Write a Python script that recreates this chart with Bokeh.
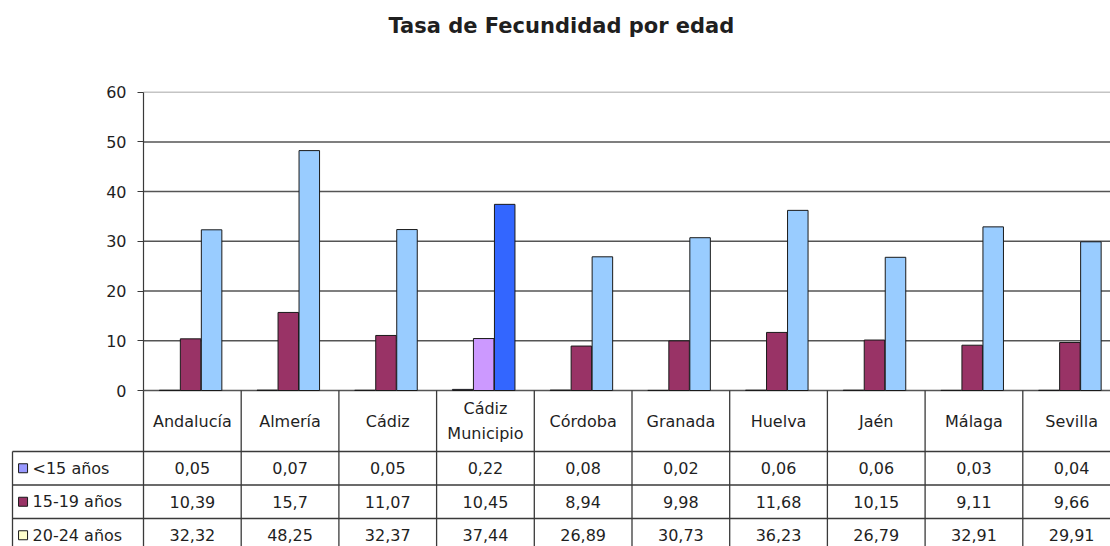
import numpy as np
from bokeh.plotting import figure
from bokeh.models import Range1d, FixedTicker, LinearAxis, ColumnDataSource
from bokeh.core.properties import value
from bokeh.embed import file_html
from bokeh.resources import INLINE

# ---------------- data ----------------
chart_title = "Tasa de Fecundidad por edad"
categories = ["Andalucía", "Almería", "Cádiz", "Cádiz\nMunicipio", "Córdoba",
              "Granada", "Huelva", "Jaén", "Málaga", "Sevilla"]
series_names = ["<15 años", "15-19 años", "20-24 años"]
menores_15 = [0.05, 0.07, 0.05, 0.22, 0.08, 0.02, 0.06, 0.06, 0.03, 0.04]
anos_15_19 = [10.39, 15.7, 11.07, 10.45, 8.94, 9.98, 11.68, 10.15, 9.11, 9.66]
anos_20_24 = [32.32, 48.25, 32.37, 37.44, 26.89, 30.73, 36.23, 26.79, 32.91, 29.91]
y_ticks = [0, 10, 20, 30, 40, 50, 60]
highlight = "Cádiz\nMunicipio"

# ---------------- styles / geometry ----------------
FONT = "DejaVu Sans"
TXT = "#1f1f1f"
LINE = "#3a3a3a"
GRID = "#555555"
GRID_TOP = "#c4c4c4"
bar_colors = ["#9999FF", "#993366", "#99CCFF"]
highlight_colors = ["#9999FF", "#CC99FF", "#3366FF"]
legend_colors = ["#9999FF", "#993366", "#FFFFCC"]

W, H = 1110, 546
AXIS_X = 143          # px, left edge of first category column
ZERO_Y = 390          # px, baseline of the chart
FRAME_L = 10          # px, left edge of plotting frame
FRAME_T = 44          # px, top edge of plotting frame
CELL = 97.7           # px per category column
YS = 4.972            # px per unit of value
HEADER_PX = 61        # header row height
ROW_PX = 33.5         # data row height
LEGEND_L = 12         # px, left border of the legend column
TITLE_X = 388         # px, left of title text

bar_w = 0.21
bar_step = 0.215
group_center = 0.482

series = [menores_15, anos_15_19, anos_20_24]
n = len(categories)
idx = np.arange(n)

x_range = Range1d(-(AXIS_X - FRAME_L) / CELL, (W - AXIS_X) / CELL)
y_range = Range1d(-(H - ZERO_Y) / YS, (ZERO_Y - FRAME_T) / YS)

p = figure(width=W, height=H, x_range=x_range, y_range=y_range,
           output_backend="svg", toolbar_location=None,
           x_axis_location=None, y_axis_location=None,
           min_border_left=FRAME_L, min_border_right=0,
           min_border_bottom=0, min_border_top=FRAME_T)
p.outline_line_color = None
p.xgrid.visible = False
p.ygrid.visible = False

# y axis drawn at the first category border
yax = LinearAxis(fixed_location=0, ticker=FixedTicker(ticks=y_ticks),
                 bounds=(y_ticks[0], y_ticks[-1]))
yax.axis_line_color = LINE
yax.axis_line_width = 1.2
yax.major_tick_line_color = LINE
yax.major_tick_out = 6
yax.major_tick_in = 0
yax.minor_tick_line_color = None
yax.major_label_text_font = FONT
yax.major_label_text_font_size = "16px"
yax.major_label_text_color = TXT
yax.major_label_standoff = 11
p.add_layout(yax, "left")

# horizontal gridlines over the category area
gy = np.array(y_ticks[:-1], dtype=float)
p.segment(x0=np.zeros(len(gy)), y0=gy, x1=np.full(len(gy), n), y1=gy,
          line_color=GRID, line_width=1.5)
p.segment(x0=[0], y0=[y_ticks[-1]], x1=[n], y1=[y_ticks[-1]],
          line_color=GRID_TOP, line_width=1.6)

# bars
for k, vals in enumerate(series):
    cols = [highlight_colors[k] if c == highlight else bar_colors[k] for c in categories]
    src = ColumnDataSource(dict(x=idx + group_center + (k - 1) * bar_step,
                                top=vals, color=cols))
    p.vbar(x="x", top="top", bottom=0, width=bar_w, source=src,
           fill_color="color", line_color="#1a1a1a", line_width=1)

# ---------------- data table ----------------
header_h = HEADER_PX / YS
row_h = ROW_PX / YS
left_edge = -(AXIS_X - LEGEND_L) / CELL
bottom = y_range.start - 5

vx = np.arange(n + 1)
p.segment(x0=vx, y0=np.zeros(n + 1), x1=vx, y1=np.full(n + 1, bottom),
          line_color=LINE, line_width=1.3)
p.segment(x0=[left_edge], y0=[-header_h], x1=[left_edge], y1=[bottom],
          line_color=LINE, line_width=1.3)
hy = -header_h - row_h * np.arange(len(series_names) + 1)
p.segment(x0=np.full(len(hy), left_edge), y0=hy, x1=np.full(len(hy), n), y1=hy,
          line_color=LINE, line_width=1.3)

p.text(x=idx + 0.5, y=np.full(n, -header_h / 2), text=categories,
       text_align="center", text_baseline="middle",
       text_font=value(FONT), text_font_size=value("16px"),
       text_color=TXT, text_line_height=1.35)

def fmt(v):
    return f"{v:g}".replace(".", ",")

row_y = -header_h - row_h * (np.arange(len(series_names)) + 0.5)
for r, vals in enumerate(series):
    p.text(x=idx + 0.5, y=np.full(n, row_y[r]), text=[fmt(v) for v in vals],
           text_align="center", text_baseline="middle",
           text_font=value(FONT), text_font_size=value("16px"), text_color=TXT)

p.scatter(x=np.full(3, left_edge + 0.108), y=row_y, marker="square", size=9,
          fill_color=legend_colors, line_color="#1a1a1a", line_width=1)
p.text(x=np.full(3, left_edge + 0.205), y=row_y, text=series_names,
       text_align="left", text_baseline="middle",
       text_font=value(FONT), text_font_size=value("16px"), text_color=TXT)

# ---------------- title ----------------
p.title.text = chart_title
p.title.align = "left"
p.title.offset = TITLE_X - FRAME_L
p.title.vertical_align = "top"
p.title.standoff = 10
p.title.text_font = FONT
p.title.text_font_size = "21px"
p.title.text_font_style = "bold"
p.title.text_color = TXT

open("out.html", "w").write(file_html(p, INLINE))
